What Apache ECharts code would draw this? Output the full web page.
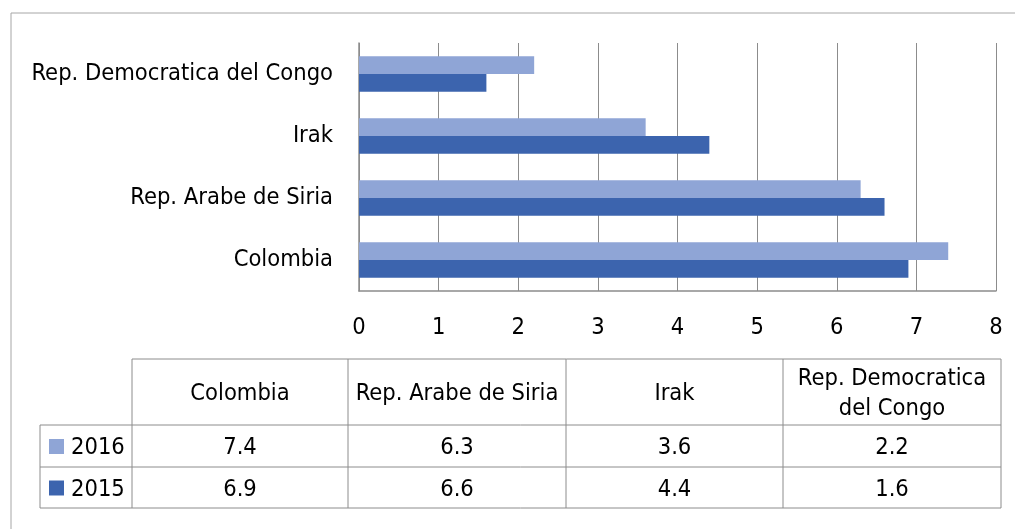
<!DOCTYPE html>
<html>
<head>
<meta charset="utf-8">
<script src="https://cdn.jsdelivr.net/npm/echarts@6/dist/echarts.min.js"></script>
<style>
  html, body { margin: 0; padding: 0; background: #fff; }
  #chart { width: 1015px; height: 529px; }
</style>
</head>
<body>
<div id="chart"></div>
<script>
// data
const countries = ['Colombia', 'Rep. Arabe de Siria', 'Irak', 'Rep. Democratica del Congo']
const tableHeaders = ['Colombia', 'Rep. Arabe de Siria', 'Irak', 'Rep. Democratica\ndel Congo']
const values2016 = [7.4, 6.3, 3.6, 2.2]
const values2015 = [6.9, 6.6, 4.4, 1.6]
const xTicks = [0, 1, 2, 3, 4, 5, 6, 7, 8]

const COLOR_2016 = '#8fa5d6'
const COLOR_2015 = '#3c64ae'
const LINE_COLOR = '#8c8c8c'
const FONT = '"DejaVu Sans Condensed", sans-serif'
const FONT_SIZE = 23.5

// table layout (Excel data table under the plot)
const colX = [132, 348, 566, 783, 1001]
const rowY = [359, 425, 467, 508]
const legendLeft = 40
const TEXT_SHIFT = 2

function buildTable() {
  const els = []
  const line = (x1, y1, x2, y2, color) => ({
    type: 'line',
    shape: { x1, y1, x2, y2 },
    style: { stroke: color || LINE_COLOR, lineWidth: 1 },
    silent: true
  })
  const text = (x, y, str, align) => ({
    type: 'text',
    x, y: y + TEXT_SHIFT,
    style: {
      text: str,
      font: FONT_SIZE + 'px ' + FONT,
      fill: '#000',
      align: align || 'center',
      verticalAlign: 'middle',
      lineHeight: 30
    },
    silent: true
  })

  // horizontal lines
  els.push(line(colX[0], rowY[0], colX[4], rowY[0]))
  els.push(line(legendLeft, rowY[1], colX[4], rowY[1]))
  els.push(line(legendLeft, rowY[2], colX[4], rowY[2]))
  els.push(line(legendLeft, rowY[3], colX[4], rowY[3]))
  // vertical lines
  els.push(line(legendLeft, rowY[1], legendLeft, rowY[3]))
  colX.forEach((x) => els.push(line(x, rowY[0], x, rowY[3])))

  const mid = (a, b) => (a + b) / 2
  tableHeaders.forEach((h, i) => {
    els.push(text(mid(colX[i], colX[i + 1]), mid(rowY[0], rowY[1]), h))
  })
  const rows = [
    { name: '2016', color: COLOR_2016, data: values2016 },
    { name: '2015', color: COLOR_2015, data: values2015 }
  ]
  rows.forEach((r, ri) => {
    const cy = mid(rowY[ri + 1], rowY[ri + 2])
    els.push({
      type: 'rect',
      shape: { x: legendLeft + 9, y: cy - 7, width: 15, height: 15 },
      style: { fill: r.color },
      silent: true
    })
    els.push(text(legendLeft + 31, cy, r.name, 'left'))
    r.data.forEach((v, i) => {
      els.push(text(mid(colX[i], colX[i + 1]), cy, v.toFixed(1)))
    })
  })
  // chart area border
  els.push(line(11, 13, 1015, 13, '#a6a6a6'))
  els.push(line(11, 13, 11, 529, '#a6a6a6'))
  return els
}

const chart = echarts.init(document.getElementById('chart'), null, { renderer: 'canvas' })

chart.setOption({
  animation: false,
  backgroundColor: '#fff',
  textStyle: { fontFamily: FONT },
  grid: { left: 359, right: 19, top: 43, bottom: 238, outerBoundsMode: 'none' },
  xAxis: {
    type: 'value',
    min: xTicks[0],
    max: xTicks[xTicks.length - 1],
    interval: 1,
    axisLine: { show: true, lineStyle: { color: LINE_COLOR, width: 1.5 } },
    axisTick: { show: false },
    axisLabel: { color: '#000', fontSize: FONT_SIZE, margin: 25, fontFamily: FONT },
    splitLine: { show: true, lineStyle: { color: LINE_COLOR, width: 1 } }
  },
  yAxis: {
    type: 'category',
    data: countries,
    axisLine: { show: true, lineStyle: { color: LINE_COLOR, width: 1.5 } },
    axisTick: { show: false },
    axisLabel: {
      color: '#000', fontSize: FONT_SIZE, margin: 26, fontFamily: FONT,
      padding: [4, 0, 0, 0]
    }
  },
  series: [
    {
      name: '2016',
      type: 'bar',
      data: values2016,
      barGap: '0%',
      barCategoryGap: '43%',
      itemStyle: { color: COLOR_2016 }
    },
    {
      name: '2015',
      type: 'bar',
      data: values2015,
      barGap: '0%',
      barCategoryGap: '43%',
      itemStyle: { color: COLOR_2015 }
    }
  ],
  graphic: buildTable()
})
</script>
</body>
</html>
